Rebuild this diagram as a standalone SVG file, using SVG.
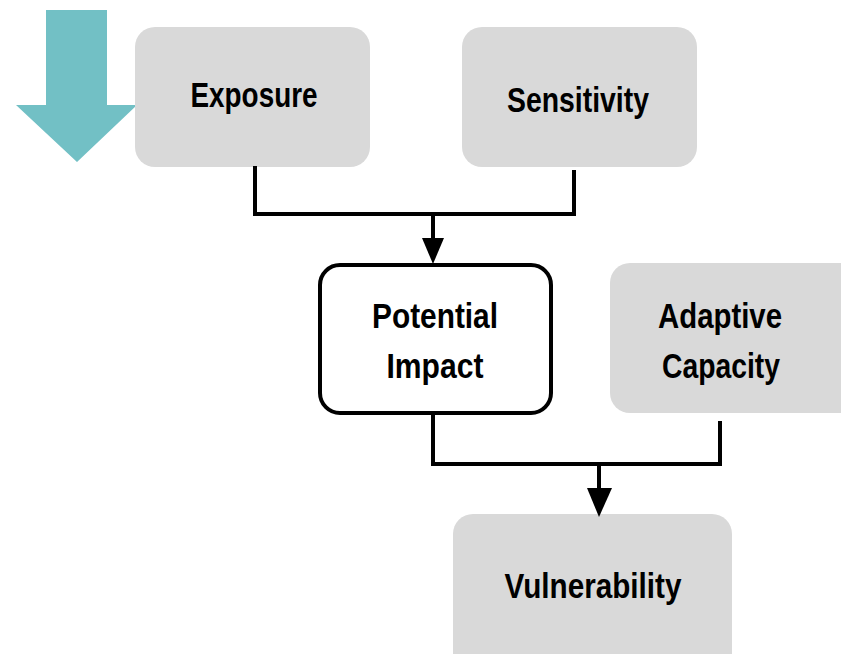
<svg xmlns="http://www.w3.org/2000/svg" width="841" height="654" viewBox="0 0 841 654">
<defs>
<style>
.box{fill:#d9d9d9;}
.pi{fill:#ffffff;stroke:#000;stroke-width:4;}
.lbl{font-family:"Liberation Sans",Arial,sans-serif;font-weight:bold;font-size:35px;fill:#000;text-anchor:middle;}
.conn{fill:none;stroke:#000;stroke-width:4;}
.head{fill:#000;}
</style>
</defs>
<rect width="841" height="654" fill="#ffffff"/>
<g id="teal-arrow">
<polygon points="46,10 107,10 107,105 137,105 77,162 16,105 46,105" fill="#72c0c5"/>
</g>
<g id="exposure">
<rect class="box" x="135" y="27" width="235" height="140" rx="20"/>
<text class="lbl" x="254" y="107" textLength="127" lengthAdjust="spacingAndGlyphs">Exposure</text>
</g>
<g id="sensitivity">
<rect class="box" x="462" y="27" width="235" height="140" rx="20"/>
<text class="lbl" x="578" y="112" textLength="142" lengthAdjust="spacingAndGlyphs">Sensitivity</text>
</g>
<g id="potential-impact">
<rect class="pi" x="320" y="265" width="231" height="148" rx="20"/>
<text class="lbl" x="435" y="328" textLength="126" lengthAdjust="spacingAndGlyphs">Potential</text>
<text class="lbl" x="435" y="378" textLength="97" lengthAdjust="spacingAndGlyphs">Impact</text>
</g>
<g id="adaptive-capacity">
<rect class="box" x="610" y="263" width="250" height="150" rx="20"/>
<text class="lbl" x="720" y="328" textLength="124" lengthAdjust="spacingAndGlyphs">Adaptive</text>
<text class="lbl" x="721" y="378" textLength="118" lengthAdjust="spacingAndGlyphs">Capacity</text>
</g>
<g id="vulnerability">
<rect class="box" x="453" y="514" width="279" height="160" rx="20"/>
<text class="lbl" x="593" y="598" textLength="177" lengthAdjust="spacingAndGlyphs">Vulnerability</text>
</g>
<g id="connectors">
<polyline class="conn" points="255,166 255,214 574,214 574,170"/>
<path d="M433,214 L433,240" class="conn"/>
<polygon class="head" points="422,238 444,238 433,264"/>
<polyline class="conn" points="433,414 433,464 720,464 720,421"/>
<path d="M599,464 L599,490" class="conn"/>
<polygon class="head" points="587,488 612,488 599,517"/>
</g>
</svg>
